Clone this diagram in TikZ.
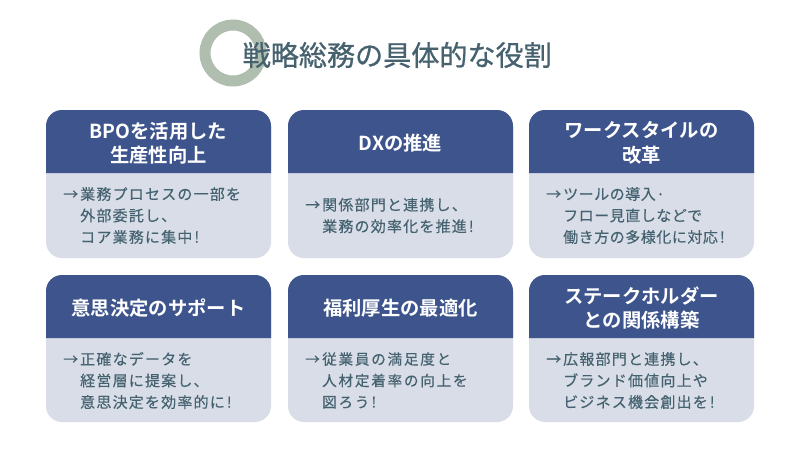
\documentclass[tikz,border=0pt]{standalone}
\usepackage{fontspec}
\setmainfont{Noto Sans CJK JP}[BoldFont={Noto Sans CJK JP Bold}]
\newfontfamily\bodyfont{Noto Sans CJK JP}[LetterSpace=8,FakeBold=0.25]
\newfontfamily\bodyfonttight{Noto Sans CJK JP}[LetterSpace=3.5,FakeBold=0.25]
\newfontfamily\bodyfontwide{Noto Sans CJK JP}[LetterSpace=12,FakeBold=0.25]
\newfontfamily\headfont{Noto Sans CJK JP Bold}
\newfontfamily\titlefont{Noto Sans CJK JP}[FakeBold=0.8]
\definecolor{hdr}{HTML}{3E548C}
\definecolor{bodybg}{HTML}{D9DDE7}
\definecolor{bodytxt}{HTML}{44626F}
\definecolor{ringc}{HTML}{B0BEB0}
\definecolor{titlec}{HTML}{46626F}
\tikzset{
  headtext/.style={text=white,font=\headfont\fontsize{19.3}{24.5}\selectfont,align=center,inner sep=0pt},
  bodytext/.style={text=bodytxt,font=\bodyfont\fontsize{15}{21.5}\selectfont,align=left,anchor=west,inner sep=0pt},
  bodytight/.style={font=\bodyfonttight\fontsize{15}{21.5}\selectfont},
  bodywide/.style={font=\bodyfontwide\fontsize{14.6}{21.5}\selectfont},
  bodynormal/.style={},
  titletext/.style={text=titlec,font=\titlefont\fontsize{28.1}{32}\selectfont,inner sep=0pt,anchor=west},
}
\newcommand{\arr}{\makebox[17pt][l]{→}}
\newcommand{\ind}{\hspace*{17pt}}
\newcommand{\excl}{\kern2pt!}
% name, left, top, bottom, row offset, head text, body, body style
\newcommand{\card}[8]{%
  \fill[bodybg,rounded corners=16pt] (#2,-#3) rectangle (#2+225,-#4);
  \fill[hdr] (#2,-173-#5) -- (#2,-#3-16) arc[start angle=180,end angle=90,radius=16] -- (#2+209,-#3) arc[start angle=90,end angle=0,radius=16] -- (#2+225,-173-#5) -- cycle;
  \node[headtext] (#1h) at (#2+112.5,-#3-33) {#6};
  \node[bodytext,#8] (#1b) at (#2+17,-173-#5-42.5) {#7};
}
\begin{document}
\begin{tikzpicture}[x=1pt,y=1pt]
\useasboundingbox (0,0) rectangle (800,-450);
\fill[white] (0,0) rectangle (800,-450);
\draw[ringc,line width=11pt] (233,-53) circle[radius=28];
\node[titletext] (title) at (242.5,-55) {戦略総務の具体的な役割};
\card{a}{46}{110}{258}{0}{BPOを活用した\\生産性向上}{\arr 業務プロセスの一部を\\\ind 外部委託し、\\\ind コア業務に集中\excl}{bodynormal}
\card{b}{288}{110}{258}{0}{DXの推進}{\arr 関係部門と連携し、\\\ind 業務の効率化を推進\excl}{bodynormal}
\card{c}{529}{110}{258}{0}{ワークスタイルの\\改革}{\arr ツールの導入·\\\ind フロー見直しなどで\\\ind 働き方の多様化に対応\excl}{bodytight}
\card{d}{46}{275}{422}{165}{意思決定のサポート}{\arr 正確なデータを\\\ind 経営層に提案し、\\\ind 意思決定を効率的に\excl}{bodynormal}
\card{e}{288}{275}{422}{165}{福利厚生の最適化}{\arr 従業員の満足度と\\\ind 人材定着率の向上を\\\ind 図ろう\excl}{bodywide}
\card{f}{529}{275}{422}{165}{ステークホルダー\\との関係構築}{\arr 広報部門と連携し、\\\ind ブランド価値向上や\\\ind ビジネス機会創出を\excl}{bodynormal}
\end{tikzpicture}
\end{document}
